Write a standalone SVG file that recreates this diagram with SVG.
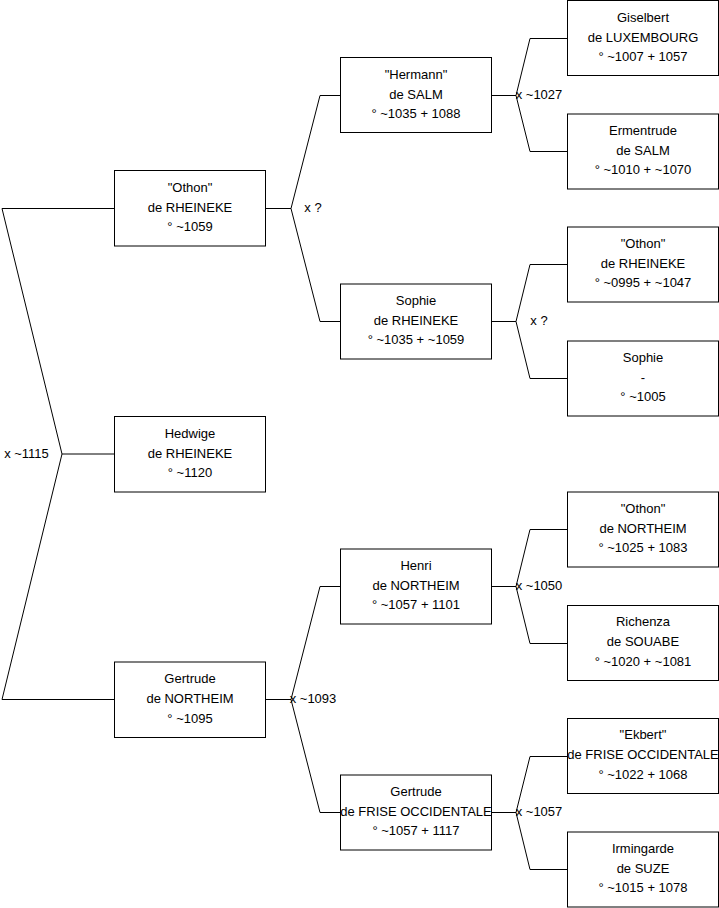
<svg xmlns="http://www.w3.org/2000/svg" width="719" height="908" viewBox="0 0 719 908">
<style>
.box{fill:#fff;stroke:#000;stroke-width:1}
.c{fill:none;stroke:#000;stroke-width:1}
text{font-family:"Liberation Sans",Arial,sans-serif;font-size:13px;fill:#000;text-anchor:middle}
</style>
<rect width="719" height="908" fill="#fff"/>
<g id="connectors">
<path class="c" d="M62,454 L2,208.5 L114.5,208.5 M62,454 L2,699.5 L114.5,699.5 M62,454 L114.5,454"/>
<path class="c" d="M265.5,208.5 L291,208.5 L320,95.5 L340.5,95.5 M291,208.5 L320,321.5 L340.5,321.5"/>
<path class="c" d="M265.5,699.5 L291,699.5 L320,586.5 L340.5,586.5 M291,699.5 L320,812.5 L340.5,812.5"/>
<path class="c" d="M491.5,95.5 L516,95.5 L530,38.5 L567.5,38.5 M516,95.5 L530,151.5 L567.5,151.5"/>
<path class="c" d="M491.5,321.5 L516,321.5 L530,264.5 L567.5,264.5 M516,321.5 L530,378.5 L567.5,378.5"/>
<path class="c" d="M491.5,586.5 L516,586.5 L530,529.5 L567.5,529.5 M516,586.5 L530,643.5 L567.5,643.5"/>
<path class="c" d="M491.5,812.5 L516,812.5 L530,756.5 L567.5,756.5 M516,812.5 L530,869.5 L567.5,869.5"/>
<text x="26.5" y="457.5">x ~1115</text>
<text x="313" y="212">x ?</text>
<text x="313" y="703">x ~1093</text>
<text x="539" y="99">x ~1027</text>
<text x="539" y="325">x ?</text>
<text x="539" y="590">x ~1050</text>
<text x="539" y="816">x ~1057</text>
</g>
<g id="othon-rheineke-1">
<rect class="box" x="114.5" y="170.5" width="151" height="75.5"/>
<text x="190" y="191.5">"Othon"</text><text x="190" y="211.5">de RHEINEKE</text><text x="190" y="231">° ~1059</text>
</g>
<g id="hedwige">
<rect class="box" x="114.5" y="416.5" width="151" height="75.5"/>
<text x="190" y="437.5">Hedwige</text><text x="190" y="457.5">de RHEINEKE</text><text x="190" y="477">° ~1120</text>
</g>
<g id="gertrude-northeim">
<rect class="box" x="114.5" y="662" width="151" height="75.5"/>
<text x="190" y="683">Gertrude</text><text x="190" y="703">de NORTHEIM</text><text x="190" y="722.5">° ~1095</text>
</g>
<g id="hermann">
<rect class="box" x="340.5" y="57.5" width="151" height="75"/>
<text x="416" y="78.5">"Hermann"</text><text x="416" y="98.5">de SALM</text><text x="416" y="118">° ~1035 + 1088</text>
</g>
<g id="sophie-rheineke">
<rect class="box" x="340.5" y="284" width="151" height="75"/>
<text x="416" y="304.5">Sophie</text><text x="416" y="324.5">de RHEINEKE</text><text x="416" y="344">° ~1035 + ~1059</text>
</g>
<g id="henri">
<rect class="box" x="340.5" y="549" width="151" height="75"/>
<text x="416" y="569.5">Henri</text><text x="416" y="589.5">de NORTHEIM</text><text x="416" y="609">° ~1057 + 1101</text>
</g>
<g id="gertrude-frise">
<rect class="box" x="340.5" y="775" width="151" height="75"/>
<text x="416" y="795.5">Gertrude</text><text x="416" y="815.5">de FRISE OCCIDENTALE</text><text x="416" y="835">° ~1057 + 1117</text>
</g>
<g id="giselbert">
<rect class="box" x="567.5" y="0.5" width="151" height="75"/>
<text x="643" y="21.5">Giselbert</text><text x="643" y="41.5">de LUXEMBOURG</text><text x="643" y="61">° ~1007 + 1057</text>
</g>
<g id="ermentrude">
<rect class="box" x="567.5" y="114" width="151" height="75"/>
<text x="643" y="134.5">Ermentrude</text><text x="643" y="154.5">de SALM</text><text x="643" y="174">° ~1010 + ~1070</text>
</g>
<g id="othon-rheineke-3">
<rect class="box" x="567.5" y="227" width="151" height="75"/>
<text x="643" y="247.5">"Othon"</text><text x="643" y="267.5">de RHEINEKE</text><text x="643" y="287">° ~0995 + ~1047</text>
</g>
<g id="sophie">
<rect class="box" x="567.5" y="341" width="151" height="75"/>
<text x="643" y="361.5">Sophie</text><text x="643" y="381.5">-</text><text x="643" y="401">° ~1005</text>
</g>
<g id="othon-northeim">
<rect class="box" x="567.5" y="492" width="151" height="75"/>
<text x="643" y="512.5">"Othon"</text><text x="643" y="532.5">de NORTHEIM</text><text x="643" y="552">° ~1025 + 1083</text>
</g>
<g id="richenza">
<rect class="box" x="567.5" y="605.5" width="151" height="75"/>
<text x="643" y="626">Richenza</text><text x="643" y="646">de SOUABE</text><text x="643" y="665.5">° ~1020 + ~1081</text>
</g>
<g id="ekbert">
<rect class="box" x="567.5" y="718.5" width="151" height="75"/>
<text x="643" y="739">"Ekbert"</text><text x="643" y="759">de FRISE OCCIDENTALE</text><text x="643" y="778.5">° ~1022 + 1068</text>
</g>
<g id="irmingarde">
<rect class="box" x="567.5" y="832" width="151" height="75"/>
<text x="643" y="852.5">Irmingarde</text><text x="643" y="872.5">de SUZE</text><text x="643" y="892">° ~1015 + 1078</text>
</g>
</svg>
